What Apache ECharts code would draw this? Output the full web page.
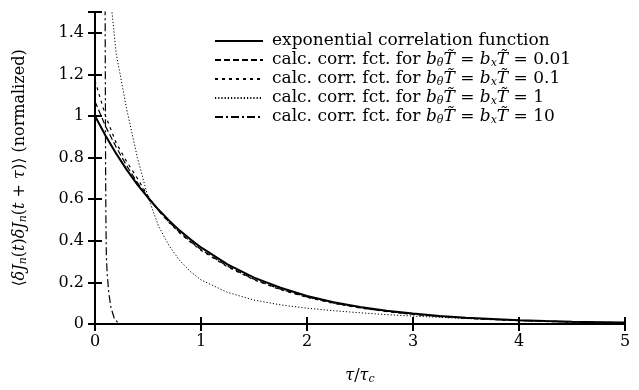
<!DOCTYPE html>
<html>
<head>
<meta charset="utf-8">
<script src="https://cdn.jsdelivr.net/npm/echarts@6/dist/echarts.min.js"></script>
<style>
    html, body { margin: 0; padding: 0; background: #fff; }
    #chart { width: 639px; height: 390px; }
</style>
</head>
<body>
<div id="chart"></div>
<script>
// values
var tau = [0, 0.1, 0.2, 0.3, 0.4, 0.5, 0.6, 0.7, 0.8, 0.9, 1, 1.25, 1.5, 1.75, 2, 2.25, 2.5, 2.75, 3, 3.25, 3.5, 3.75, 4, 4.25, 4.5, 4.75, 5];
var expCorr = [1, 0.905, 0.819, 0.741, 0.670, 0.607, 0.549, 0.497, 0.449, 0.407, 0.368, 0.287, 0.223, 0.174, 0.135, 0.105, 0.082, 0.064, 0.050, 0.039, 0.030, 0.024, 0.018, 0.014, 0.011, 0.009, 0.007];
var calc001 = [1.07, 0.95, 0.85, 0.76, 0.68, 0.61, 0.545, 0.49, 0.44, 0.397, 0.358, 0.278, 0.215, 0.167, 0.13, 0.101, 0.078, 0.061, 0.047, 0.037, 0.029, 0.022, 0.017, 0.013, 0.010, 0.008, 0.006];
var calc01 = [1.17, 1.0, 0.87, 0.78, 0.70, 0.615, 0.545, 0.487, 0.437, 0.394, 0.354, 0.275, 0.212, 0.165, 0.128, 0.099, 0.077, 0.060, 0.046, 0.036, 0.028, 0.021, 0.016, 0.012, 0.009, 0.007, 0.005];
var tau1 = [0.12, 0.16, 0.2, 0.3, 0.4, 0.5, 0.6, 0.7, 0.8, 0.9, 1, 1.25, 1.5, 1.75, 2, 2.25, 2.5, 2.75, 3, 3.5, 4, 4.5, 5];
var calc1 = [1.62, 1.5, 1.3, 1.03, 0.80, 0.61, 0.47, 0.375, 0.305, 0.252, 0.212, 0.152, 0.115, 0.092, 0.076, 0.064, 0.054, 0.045, 0.038, 0.026, 0.017, 0.011, 0.007];
var tau10 = [0.095, 0.098, 0.1, 0.103, 0.107, 0.115, 0.13, 0.15, 0.18, 0.22, 0.3, 5];
var calc10 = [1.6, 1.1, 0.75, 0.5, 0.33, 0.24, 0.15, 0.08, 0.03, 0.003, 0, 0];
var xTicks = [0, 1, 2, 3, 4, 5];
var yTicks = [0, 0.2, 0.4, 0.6, 0.8, 1, 1.2, 1.4];

var names = [
    'exponential correlation function',
    'calc. corr. fct. for 0.01',
    'calc. corr. fct. for 0.1',
    'calc. corr. fct. for 1',
    'calc. corr. fct. for 10'
];

function pairs(xs, ys) {
    return xs.map(function (x, i) { return [x, ys[i]]; });
}

var font = 'DejaVu Serif';
var chart = echarts.init(document.getElementById('chart'));

var axisCommon = {
    type: 'value',
    axisLine: { show: true, lineStyle: { color: '#000', width: 2 } },
    axisTick: { show: true, inside: true, length: 7, lineStyle: { color: '#000', width: 2 } },
    splitLine: { show: false }
};

var option = {
    backgroundColor: '#fff',
    animation: false,
    grid: { left: 95, right: 14, top: 12, bottom: 63 },
    legend: {
        show: true,
        orient: 'vertical',
        left: 209,
        top: 27,
        itemWidth: 48,
        itemHeight: 14,
        itemGap: 1,
        data: names,
        itemStyle: { opacity: 0 },
        formatter: function (name) {
            if (name === names[0]) return name;
            var v = name.replace('calc. corr. fct. for ', '');
            return 'calc. corr. fct. for {i|b}{s|θ}{i|T̃} = {i|b}{s|x}{i|T̃} = ' + v;
        },
        textStyle: {
            fontFamily: font, fontSize: 17, color: '#000', lineHeight: 18, padding: [0, 0, 0, 4],
            rich: {
                i: { fontFamily: font, fontStyle: 'italic', fontSize: 17, lineHeight: 18 },
                s: { fontFamily: font, fontStyle: 'italic', fontSize: 11, lineHeight: 11, verticalAlign: 'bottom' }
            }
        }
    },
    xAxis: [
        Object.assign({}, axisCommon, {
            min: 0, max: 5, interval: 1, position: 'bottom',
            name: '{i|τ}/{i|τ}{s|c}',
            nameLocation: 'middle',
            nameGap: 42,
            nameTextStyle: {
                fontFamily: font, fontSize: 16, color: '#000',
                rich: {
                    i: { fontFamily: font, fontStyle: 'italic', fontSize: 16 },
                    s: { fontFamily: font, fontStyle: 'italic', fontSize: 11, verticalAlign: 'bottom', padding: [8, 0, 0, 0] }
                }
            },
            axisLabel: {
                margin: 10, fontFamily: font, fontSize: 16, color: '#000',
                formatter: function (v) { return xTicks.indexOf(v) >= 0 ? String(v) : ''; }
            }
        }),
        Object.assign({}, axisCommon, {
            min: 0, max: 5, interval: 1, position: 'top',
            axisLabel: { show: false }
        })
    ],
    yAxis: [
        Object.assign({}, axisCommon, {
            min: 0, max: 1.5, interval: 0.2, position: 'left',
            name: '⟨{i|δJ}{s|n}({i|t}){i|δJ}{s|n}({i|t} + {i|τ})⟩ (normalized)',
            nameLocation: 'middle',
            nameRotate: 90,
            nameGap: 66,
            nameTextStyle: {
                fontFamily: font, fontSize: 16, color: '#000',
                rich: {
                    i: { fontFamily: font, fontStyle: 'italic', fontSize: 16 },
                    s: { fontFamily: font, fontStyle: 'italic', fontSize: 11, verticalAlign: 'bottom', padding: [8, 0, 0, 0] }
                }
            },
            axisLabel: {
                margin: 11, fontFamily: font, fontSize: 16, color: '#000',
                formatter: function (v) {
                    var r = Math.round(v * 10) / 10;
                    return yTicks.indexOf(r) >= 0 && Math.abs(r - v) < 1e-6 ? String(r) : '';
                }
            }
        }),
        Object.assign({}, axisCommon, {
            min: 0, max: 1.5, interval: 0.2, position: 'right',
            axisLabel: { show: false }
        })
    ],
    series: [
        {
            name: names[0], type: 'line', symbol: 'none', clip: true,
            data: pairs(tau, expCorr),
            lineStyle: { color: '#000', width: 2, type: 'solid' },
            itemStyle: { color: '#000' }
        },
        {
            name: names[1], type: 'line', symbol: 'none', clip: true,
            data: pairs(tau, calc001),
            lineStyle: { color: '#000', width: 1.2, type: [6, 3] },
            itemStyle: { color: '#000' }
        },
        {
            name: names[2], type: 'line', symbol: 'none', clip: true,
            data: pairs(tau, calc01),
            lineStyle: { color: '#000', width: 1.2, type: [3, 4] },
            itemStyle: { color: '#000' }
        },
        {
            name: names[3], type: 'line', symbol: 'none', clip: true,
            data: pairs(tau1, calc1),
            lineStyle: { color: '#000', width: 1, type: [1.2, 2] },
            itemStyle: { color: '#000' }
        },
        {
            name: names[4], type: 'line', symbol: 'none', clip: true,
            data: pairs(tau10, calc10),
            lineStyle: { color: '#000', width: 1.2, type: [8, 3, 2, 3] },
            itemStyle: { color: '#000' }
        }
    ]
};

chart.setOption(option);
</script>
</body>
</html>
